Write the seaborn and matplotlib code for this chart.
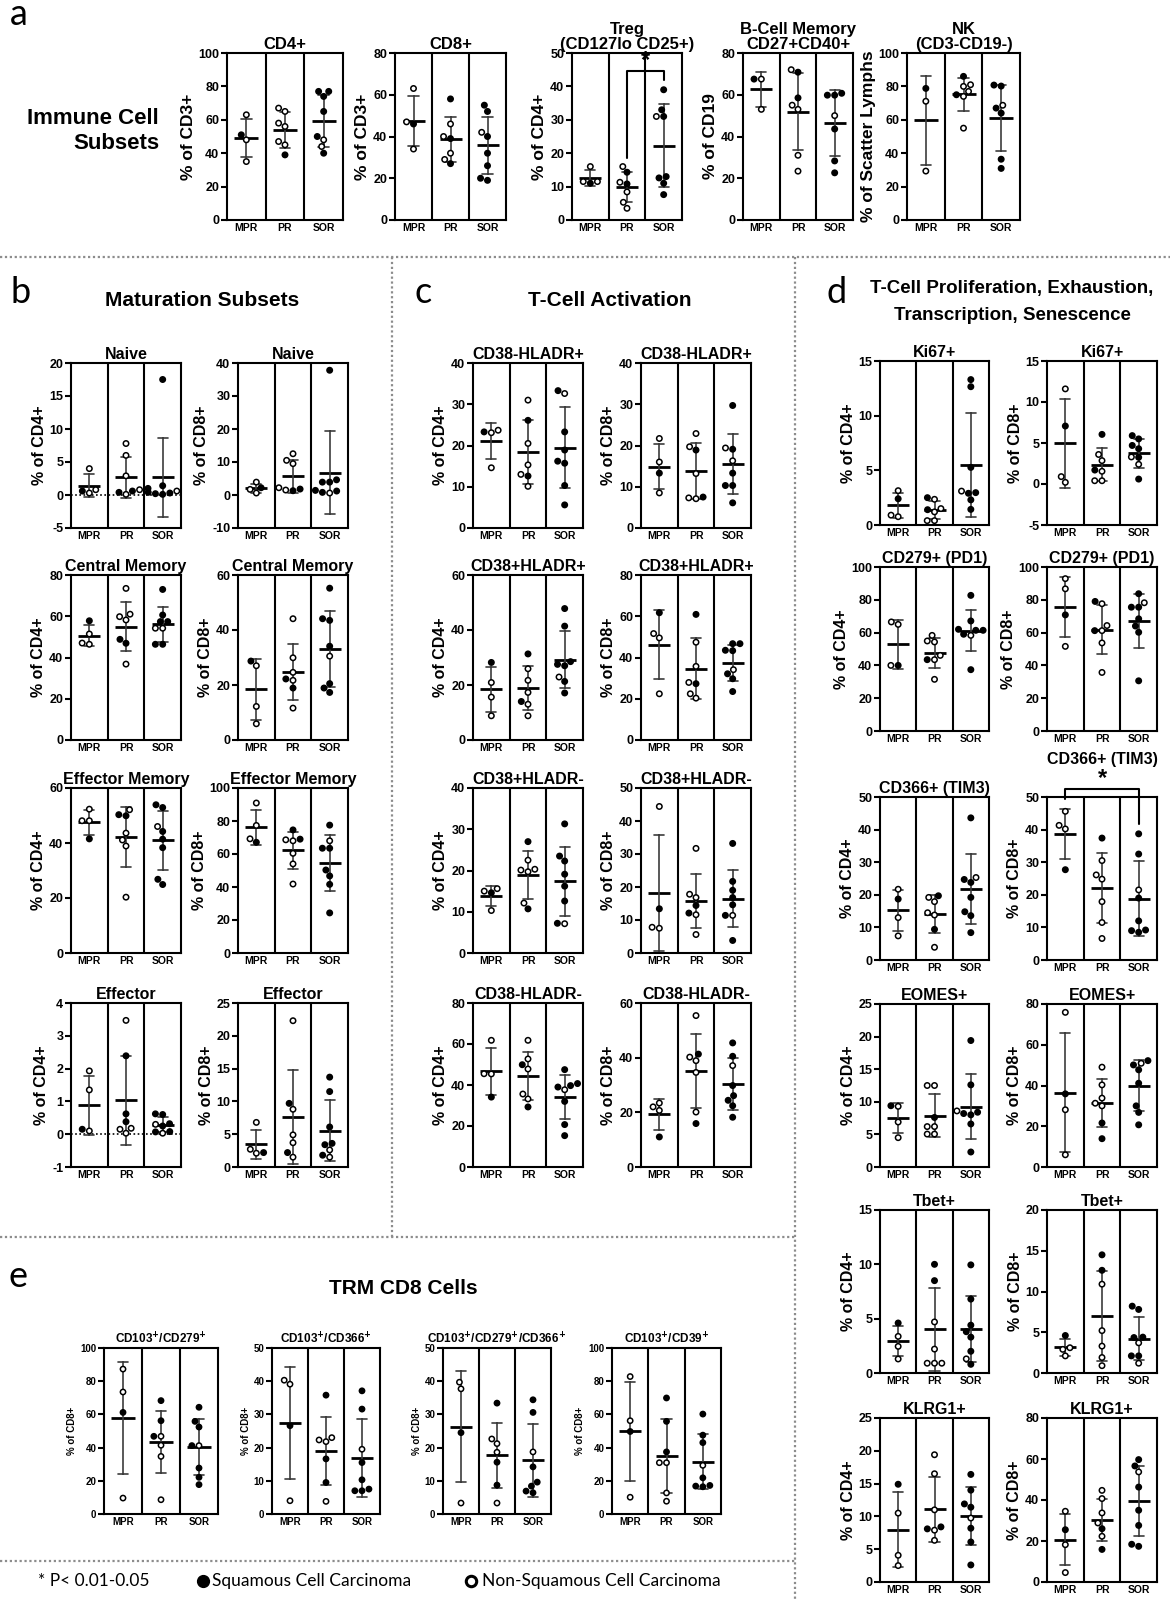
import numpy as np
import pandas as pd
import matplotlib
matplotlib.use("Agg")
import matplotlib.pyplot as plt
from matplotlib.lines import Line2D
import seaborn as sns

sns.set_theme(style="white")
plt.rcParams['font.family'] = ['Liberation Sans', 'DejaVu Sans']
plt.rcParams['font.weight'] = 'bold'
plt.rcParams['axes.titleweight'] = 'bold'
plt.rcParams['axes.labelweight'] = 'bold'
plt.rcParams['mathtext.default'] = 'bf'
plt.rcParams['text.color'] = 'black'
plt.rcParams['axes.labelcolor'] = 'black'

GROUPS = ['MPR', 'PR', 'SOR']

# values per group (MPR, PR, SOR); flags: f = squamous (filled), o = non-squamous (open)
# --- a: immune cell subsets
a_cd4 = [[63, 51, 48, 35], [67, 65, 58, 56, 47, 45, 39], [77, 77, 74, 65, 50, 48, 44, 40]]
a_cd4_sq = ["ofoo", "oooooof", "fffffoof"]
a_cd8 = [[63, 47, 46, 34], [58, 46, 40, 39, 32, 29, 27], [55, 52, 42, 40, 32, 26, 20, 19]]
a_cd8_sq = ["oofo", "foofoof", "ffofffff"]
a_treg = [[16, 11.5, 11.5, 11], [16, 14.3, 11.3, 10.8, 8.4, 5.3, 3.5], [39, 33, 31, 31, 13, 12.6, 11, 7.6]]
a_treg_sq = ["ooof", "ofofooo", "fffoffff"]
a_bmem = [[67.5, 67.5, 53], [72, 70.8, 58.5, 55, 53, 31, 23.4], [59.8, 60.7, 59.8, 50, 43.6, 28.3, 22.6]]
a_bmem_sq = ["ofo", "offoooo", "fffofff"]
a_nk = [[78.8, 71.1, 29.3], [86, 81, 80, 77, 75, 74, 55], [80.8, 80.2, 68.7, 67, 64, 36.4, 30.9]]
a_nk_sq = ["foo", "fooofoo", "ffoffff"]

# --- b: maturation subsets
b_naive4 = [[4, 0.8, 0.6, 0.3], [7.8, 6, 2.9, 0.8, 0.1, 0.6, 0.4], [17.5, 1.4, 1.0, 0.6, 0.4, 0.3, 0.2, 0.1]]
b_naive4_sq = ["oofo", "oooooff", "fffoffff"]
b_naive8 = [[3.9, 2.2, 1.7, 0.6], [12.5, 10.5, 9.5, 2.2, 1.5, 1.3, 1.8], [37.8, 4.6, 3.9, 3.9, 1.4, 1.2, 0.8, 0.6]]
b_naive8_sq = ["ofoo", "oooooff", "fffffffo"]
b_cm4 = [[57.8, 51.4, 47, 46.4], [73.5, 61, 59.8, 58.2, 48.8, 46.9, 36.8], [73, 60.6, 57.4, 57.4, 54.2, 54.2, 46.4, 46.4]]
b_cm4_sq = ["fooo", "ooooffo", "ffffooff"]
b_cm8 = [[28.7, 27, 12.2, 5.9], [44.1, 29.9, 24.6, 22.2, 21.7, 18.9, 11.6], [55.2, 44.1, 43.5, 34.1, 30.5, 20.5, 18.9, 17.3]]
b_cm8_sq = ["fooo", "ooofofo", "ffffofff"]
b_em4 = [[52.3, 48.1, 48.1, 41.5], [52.1, 50.3, 49.9, 43.6, 41.1, 38.9, 20.3], [53.9, 52.9, 46, 44.2, 41.4, 38.3, 26.8, 24.9]]
b_em4_sq = ["ooof", "offoooo", "ffofffff"]
b_em8 = [[90.9, 77.3, 69.2, 67.1], [74.6, 69, 68.6, 68, 60.4, 54, 41.8], [77.5, 68, 63.5, 63.5, 50.3, 46.7, 41.6, 24.3]]
b_em8_sq = ["ooof", "ffooooo", "foffffff"]
b_eff4 = [[1.93, 1.35, 0.15, 0.1], [3.47, 2.39, 0.62, 0.38, 0.18, 0.15, 0.03], [0.62, 0.6, 0.32, 0.3, 0.25, 0.08, 0.07, 0.03]]
b_eff4_sq = ["oofo", "offfooo", "fffofffo"]
b_eff8 = [[6.8, 2.7, 2.2, 2.1], [22.3, 9.7, 8.8, 4.9, 3.7, 2.2, 1.5], [13.7, 11.5, 6.1, 3.6, 3.4, 2.6, 1.8, 1.5]]
b_eff8_sq = ["oofo", "ofooofo", "fffffofo"]

# --- c: T-cell activation
c_dr4 = [[23.7, 23.3, 23.1, 14.6], [31, 26.1, 20.5, 15.3, 13, 12.6, 10.1], [33.3, 32.6, 23.3, 18.9, 16.2, 15.7, 10.3, 5.6]]
c_dr4_sq = ["ofoo", "ofooofo", "foffffff"]
c_dr8 = [[21.7, 16, 13.3, 8.5], [22.9, 19.7, 18.9, 13.2, 7.5, 7.3, 7.1], [29.7, 19.4, 19.1, 16.3, 13.3, 10.3, 10.3, 6.1]]
c_dr8_sq = ["oofo", "oofofoo", "fofoffff"]
c_pp4 = [[28.2, 20.9, 15.6, 8.8], [31.3, 25.9, 21.7, 17.3, 14, 13, 8.8], [47.8, 41.4, 28.5, 27.5, 27, 22.9, 21.3, 17.1]]
c_pp4_sq = ["fooo", "fooofoo", "fffffoff"]
c_pp8 = [[61.7, 51.6, 49.5, 22.4], [60.9, 47.4, 35.7, 27.9, 27.3, 22.4, 20.3], [46.7, 46.7, 43.5, 43.3, 34.1, 32.1, 29.7, 23.5]]
c_pp8_sq = ["fooo", "fooofoo", "ffffofff"]
c_pm4 = [[15.6, 15, 14.6, 10.3], [27, 22.5, 20.3, 20.1, 19.7, 12.1, 10.7], [31.3, 23.5, 22.3, 19.1, 16.2, 12.6, 7.2, 7.1]]
c_pm4_sq = ["oofo", "fooooof", "fffffffo"]
c_pm8 = [[44.4, 13.4, 7.8, 7.5], [31.7, 17.8, 16.8, 14.4, 12.1, 11.6, 5.6], [33.2, 21.7, 19, 16.8, 14.6, 11.4, 11.4, 3.8]]
c_pm8_sq = ["ofoo", "oooffoo", "fffffoff"]
c_mm4 = [[61.8, 45.5, 45.4, 34.1], [61.8, 52.7, 49.9, 47.8, 35.6, 33.2, 29.3], [47.5, 40.7, 39.7, 39, 37.7, 32, 20.7, 15.3]]
c_mm4_sq = ["ooof", "oofooof", "ffffofff"]
c_mm8 = [[23.4, 22, 20.7, 11], [55.4, 41.3, 40.2, 38.9, 34.6, 20.1, 15.9], [45.4, 40.5, 37.1, 29.8, 26.1, 24.4, 22.4, 18.2]]
c_mm8_sq = ["ooof", "ofoooof", "ffofffff"]

# --- d: proliferation, exhaustion, transcription, senescence
d_ki4 = [[3.14, 2.4, 0.9, 0.76], [2.5, 2.35, 1.5, 1.4, 1.2, 0.4, 0.4], [13.3, 12.65, 5.27, 3.1, 2.96, 2.9, 2.3, 1.43]]
d_ki4_sq = ["ofoo", "foofooo", "fffoffff"]
d_ki8 = [[11.6, 7.07, 0.9, 0.2], [6.05, 3.6, 2.85, 1.7, 1.55, 0.4, 0.4], [5.9, 5.5, 4.7, 4.3, 3.3, 3.25, 2.4, 0.6]]
d_ki8_sq = ["ofoo", "foofooo", "ffffofof"]
d_pd4 = [[66.5, 65, 40, 40], [58.3, 54.9, 54.3, 46.1, 43.5, 43.5, 31.5], [82.7, 67.1, 62, 61.4, 61.4, 59, 58.3, 37.4]]
d_pd4_sq = ["ooof", "ooooofo", "ffffffof"]
d_pd8 = [[92.9, 86.7, 70.8, 51.6], [79, 77.6, 64.3, 61.2, 61.2, 53.7, 35.7], [83.7, 78.2, 75.5, 75.5, 68.4, 64, 60.2, 30.6]]
d_pd8_sq = ["oofo", "fooofoo", "foffffff"]
d_tim4 = [[21.7, 18.7, 13, 7.4], [19.7, 19.2, 17.9, 14.5, 13.8, 9.4, 3.9], [43.6, 25.3, 24.7, 23.8, 19.2, 14.8, 13.6, 8.4]]
d_tim4_sq = ["ofoo", "foooofo", "foffffff"]
d_tim8 = [[45.6, 41.3, 40.2, 27.7], [37.4, 30.5, 26.1, 24.8, 17.9, 11.5, 6.6], [38.7, 32.5, 21.5, 19, 12, 9.2, 9, 8.5]]
d_tim8_sq = ["ooof", "foooooo", "ffofffff"]
d_eo4 = [[9.4, 9.3, 6.9, 4.5], [12.5, 12.5, 7.6, 6.2, 6.2, 5.05, 5.05], [19.4, 12.6, 8.6, 8.4, 8.2, 8, 6.6, 2.3]]
d_eo4_sq = ["fooo", "oofoooo", "ffofffff"]
d_eo8 = [[75.9, 35.9, 28.1, 6], [49, 40.3, 33.8, 31.3, 30, 21.6, 13.9], [52.2, 50.9, 50.1, 47.7, 41.1, 30, 26.8, 20.7]]
d_eo8_sq = ["ofoo", "oooooff", "foffffff"]
d_tb4 = [[4.6, 3.37, 2.45, 1.29], [10, 8.5, 4.7, 2.2, 0.9, 0.9, 0.9], [9.95, 6.8, 4.4, 3.8, 3.3, 2, 1.3, 0.8]]
d_tb4_sq = ["fooo", "ffooooo", "ffffffof"]
d_tb8 = [[4.6, 3.1, 2.9, 2.1], [14.5, 12.6, 10.9, 5.2, 3.3, 1.9, 0.9], [8.2, 7.8, 4.4, 4.35, 3.7, 2.1, 2.1, 1.2]]
d_tb8_sq = ["fooo", "ffooooo", "ffffoffo"]
d_kl4 = [[14.9, 10.5, 4.07, 2.5], [19.4, 16.5, 11, 8.4, 8.1, 7.9, 6.35], [16.4, 14, 11.9, 11.4, 9.75, 8.2, 6.1, 2.6]]
d_kl4_sq = ["fooo", "oooffoo", "ffffofff"]
d_kl8 = [[34.5, 25.5, 18.2, 4.6], [44.7, 40.7, 33.7, 28.8, 26, 22.3, 15.9], [59.7, 56.6, 53.7, 46.3, 35, 27.6, 18.4, 17.4]]
d_kl8_sq = ["ofoo", "oooofof", "ffofffff"]

# --- e: TRM CD8 cells
e_279 = [[87.3, 73.5, 61.2, 9.6], [68.3, 56.2, 46.8, 46.8, 41.4, 34.7, 8.6], [64.3, 55.8, 52.4, 41.2, 41.2, 27.7, 22.1, 17.7]]
e_279_sq = ["oofo", "fffoooo", "fffoffff"]
e_366 = [[40.3, 39.1, 26.6, 4], [35.8, 23, 22.3, 21.8, 16.6, 9.5, 3.8], [37.1, 31.6, 19.5, 15.5, 10.3, 7.5, 7, 7]]
e_366_sq = ["oofo", "foooffo", "ffofffff"]
e_both = [[39.7, 37.7, 24.5, 3.3], [33.4, 22.6, 21.2, 18.6, 15.6, 8.7, 3.3], [34.4, 30.6, 18.7, 14.2, 9.6, 8.4, 6.9, 6.4]]
e_both_sq = ["oofo", "foooffo", "ffofffff"]
e_39 = [[82.8, 56.2, 49.7, 10.1], [69.9, 55.8, 37.4, 30.9, 30.9, 12.7, 7.7], [60.2, 47.5, 43, 29.3, 21.8, 17.2, 16.8, 16.4]]
e_39_sq = ["oofo", "fffoooo", "fffoffff"]

W, H = 1170, 1599
fig = plt.figure(figsize=(W / 100, H / 100), dpi=100)


def rect(x0, x1, y0, y1):
    return [x0 / W, 1 - y1 / H, (x1 - x0) / W, (y1 - y0) / H]


def ftext(x, y, s, **kw):
    fig.text(x / W, 1 - y / H, s, **kw)


def fline(xs, ys):
    fig.add_artist(Line2D([x / W for x in xs], [1 - y / H for y in ys], color='#8c8c8c',
                          lw=1.6, ls=(0, (1, 1.2)), transform=fig.transFigure))


def make_frame(vals, sq):
    rows = []
    for g, vs, fl in zip(GROUPS, vals, sq):
        for v, f in zip(vs, fl):
            rows.append({'group': g, 'value': v, 'type': 'SCC' if f == 'f' else 'NSCC'})
    return pd.DataFrame(rows)


STD = dict(title=11.5, ylabel=11.5, ytick=9, xtick=7.5, ms=3.9)
STA = dict(title=12, ylabel=12.5, ytick=9, xtick=7.5, ms=3.9)
STE = dict(title=8.5, ylabel=7, ytick=7, xtick=7, ms=3.8)


def panel(box, vals, sq, ylim, step, title, ylabel, st, zero=False, pad=3):
    ax = fig.add_axes(rect(*box))
    df = make_frame(vals, sq)
    cat_pt = (box[1] - box[0]) / 3 * 0.72
    sns.swarmplot(data=df, x='group', y='value', hue='type', order=GROUPS,
                  hue_order=['SCC', 'NSCC'], palette={'SCC': 'black', 'NSCC': 'white'},
                  size=st['ms'], edgecolor='black', linewidth=1.1, legend=False,
                  zorder=3, ax=ax)
    sns.pointplot(data=df, x='group', y='value', order=GROUPS, errorbar='sd',
                  capsize=0.28, color='black', linestyle='none', marker='_',
                  markersize=0.62 * cat_pt, markeredgewidth=2.0,
                  err_kws={'color': '#3c3c3c', 'linewidth': 1.2, 'linestyle': '-'}, ax=ax)
    ax.set_xlim(-0.5, 2.5)
    ax.set_ylim(*ylim)
    ax.set_yticks(np.arange(ylim[0], ylim[1] + step / 2, step))
    ax.set_yticklabels(['%g' % t for t in ax.get_yticks()])
    for xv in (0.5, 1.5):
        ax.axvline(xv, color='black', lw=1.5, zorder=2)
    if zero:
        ax.axhline(0, color='black', lw=1.2, ls=(0, (1, 1.5)), zorder=1)
    for s in ax.spines.values():
        s.set_linewidth(1.5)
        s.set_color('black')
    ax.tick_params(axis='y', left=True, length=4, width=1.5, direction='out',
                   labelsize=st['ytick'], pad=1.5, colors='black')
    ax.tick_params(axis='x', bottom=False, length=0, labelsize=st['xtick'], pad=2,
                   colors='black')
    ax.set_xlabel('')
    ax.set_ylabel(ylabel, fontsize=st['ylabel'], labelpad=2, color='black')
    ax.set_title(title, fontsize=st['title'], pad=pad, linespacing=1.0, color='black')
    return ax


# ---- panel a
a_y = (53, 220)
panel((227, 343) + a_y, a_cd4, a_cd4_sq, (0, 100), 20, 'CD4+', '% of CD3+', STA)
panel((395, 506) + a_y, a_cd8, a_cd8_sq, (0, 80), 20, 'CD8+', '% of CD3+', STA)
ax = panel((572, 682) + a_y, a_treg, a_treg_sq, (0, 50), 10, 'Treg\n(CD127lo CD25+)',
           '% of CD4+', STA)
ax.plot([1, 1, 2, 2], [18.6, 44.6, 44.6, 42], color='black', lw=1.5, zorder=4)
ax.text(1.5, 44.2, '*', ha='center', va='bottom', fontsize=17)
panel((743, 853) + a_y, a_bmem, a_bmem_sq, (0, 80), 20, 'B-Cell Memory\nCD27+CD40+',
      '% of CD19', STA)
panel((907, 1020) + a_y, a_nk, a_nk_sq, (0, 100), 20, 'NK\n(CD3-CD19-)',
      '% of Scatter Lymphs', STA)

# ---- panel b
rows_bc = [(363, 528), (575, 740), (788, 953), (1003, 1167)]
bx = [(71, 181), (238, 348)]
panel(bx[0] + rows_bc[0], b_naive4, b_naive4_sq, (-5, 20), 5, 'Naive', '% of CD4+', STD, zero=True)
panel(bx[1] + rows_bc[0], b_naive8, b_naive8_sq, (-10, 40), 10, 'Naive', '% of CD8+', STD)
panel(bx[0] + rows_bc[1], b_cm4, b_cm4_sq, (0, 80), 20, 'Central Memory', '% of CD4+', STD)
panel(bx[1] + rows_bc[1], b_cm8, b_cm8_sq, (0, 60), 20, 'Central Memory', '% of CD8+', STD)
panel(bx[0] + rows_bc[2], b_em4, b_em4_sq, (0, 60), 20, 'Effector Memory', '% of CD4+', STD)
panel(bx[1] + rows_bc[2], b_em8, b_em8_sq, (0, 100), 20, 'Effector Memory', '% of CD8+', STD)
panel(bx[0] + rows_bc[3], b_eff4, b_eff4_sq, (-1, 4), 1, 'Effector', '% of CD4+', STD, zero=True)
panel(bx[1] + rows_bc[3], b_eff8, b_eff8_sq, (0, 25), 5, 'Effector', '% of CD8+', STD)

# ---- panel c
cx = [(473, 583), (641, 751)]
panel(cx[0] + rows_bc[0], c_dr4, c_dr4_sq, (0, 40), 10, 'CD38-HLADR+', '% of CD4+', STD)
panel(cx[1] + rows_bc[0], c_dr8, c_dr8_sq, (0, 40), 10, 'CD38-HLADR+', '% of CD8+', STD)
panel(cx[0] + rows_bc[1], c_pp4, c_pp4_sq, (0, 60), 20, 'CD38+HLADR+', '% of CD4+', STD)
panel(cx[1] + rows_bc[1], c_pp8, c_pp8_sq, (0, 80), 20, 'CD38+HLADR+', '% of CD8+', STD)
panel(cx[0] + rows_bc[2], c_pm4, c_pm4_sq, (0, 40), 10, 'CD38+HLADR-', '% of CD4+', STD)
panel(cx[1] + rows_bc[2], c_pm8, c_pm8_sq, (0, 50), 10, 'CD38+HLADR-', '% of CD8+', STD)
panel(cx[0] + rows_bc[3], c_mm4, c_mm4_sq, (0, 80), 20, 'CD38-HLADR-', '% of CD4+', STD)
panel(cx[1] + rows_bc[3], c_mm8, c_mm8_sq, (0, 60), 20, 'CD38-HLADR-', '% of CD8+', STD)

# ---- panel d
dx = [(880, 989), (1047, 1157)]
rows_d = [(361, 525), (567, 731), (797, 960), (1004, 1167), (1210, 1373), (1418, 1582)]
panel(dx[0] + rows_d[0], d_ki4, d_ki4_sq, (0, 15), 5, 'Ki67+', '% of CD4+', STD)
panel(dx[1] + rows_d[0], d_ki8, d_ki8_sq, (-5, 15), 5, 'Ki67+', '% of CD8+', STD)
panel(dx[0] + rows_d[1], d_pd4, d_pd4_sq, (0, 100), 20, 'CD279+ (PD1)', '% of CD4+', STD)
panel(dx[1] + rows_d[1], d_pd8, d_pd8_sq, (0, 100), 20, 'CD279+ (PD1)', '% of CD8+', STD)
panel(dx[0] + rows_d[2], d_tim4, d_tim4_sq, (0, 50), 10, 'CD366+ (TIM3)', '% of CD4+', STD)
ax = panel(dx[1] + rows_d[2], d_tim8, d_tim8_sq, (0, 50), 10, 'CD366+ (TIM3)', '% of CD8+',
           STD, pad=24)
ax.plot([0, 0, 2, 2], [49.4, 52.4, 52.4, 41.8], color='black', lw=1.5, zorder=4, clip_on=False)
ax.text(1.0, 52.0, '*', ha='center', va='bottom', fontsize=17)
panel(dx[0] + rows_d[3], d_eo4, d_eo4_sq, (0, 25), 5, 'EOMES+', '% of CD4+', STD)
panel(dx[1] + rows_d[3], d_eo8, d_eo8_sq, (0, 80), 20, 'EOMES+', '% of CD8+', STD)
panel(dx[0] + rows_d[4], d_tb4, d_tb4_sq, (0, 15), 5, 'Tbet+', '% of CD4+', STD)
panel(dx[1] + rows_d[4], d_tb8, d_tb8_sq, (0, 20), 5, 'Tbet+', '% of CD8+', STD)
panel(dx[0] + rows_d[5], d_kl4, d_kl4_sq, (0, 25), 5, 'KLRG1+', '% of CD4+', STD)
panel(dx[1] + rows_d[5], d_kl8, d_kl8_sq, (0, 80), 20, 'KLRG1+', '% of CD8+', STD)

# ---- panel e
e_y = (1348, 1514)
panel((104, 218) + e_y, e_279, e_279_sq, (0, 100), 20, r'CD103$^{+}$/CD279$^{+}$', '% of CD8+', STE)
panel((272, 380) + e_y, e_366, e_366_sq, (0, 50), 10, r'CD103$^{+}$/CD366$^{+}$', '% of CD8+', STE)
panel((443, 551) + e_y, e_both, e_both_sq, (0, 50), 10,
      r'CD103$^{+}$/CD279$^{+}$/CD366$^{+}$', '% of CD8+', STE)
panel((612, 721) + e_y, e_39, e_39_sq, (0, 100), 20, r'CD103$^{+}$/CD39$^{+}$', '% of CD8+', STE)

# ---- section labels and headers
letter = dict(fontsize=26, fontweight='normal', family=['Lato', 'DejaVu Sans'], va='baseline')
ftext(10, 25, 'a', **letter)
ftext(10, 303, 'b', **letter)
ftext(415, 303, 'c', **letter)
ftext(827, 303, 'd', **letter)
ftext(8, 1287, 'e', **letter)

head = dict(fontsize=15, fontweight='bold', ha='center', va='center')
ftext(159, 131, 'Immune Cell\nSubsets', fontsize=16, fontweight='bold',
      ha='right', va='center', linespacing=1.25)
ftext(202, 300, 'Maturation Subsets', **head)
ftext(610, 301, 'T-Cell Activation', **head)
ftext(1012, 288, 'T-Cell Proliferation, Exhaustion,', fontsize=13.5, fontweight='bold',
      ha='center', va='center')
ftext(1012, 315, 'Transcription, Senescence', fontsize=13.5, fontweight='bold',
      ha='center', va='center')
ftext(403, 1288, 'TRM CD8 Cells', **head)

# ---- dotted separators
fline([0, W], [257, 257])
fline([392, 392], [257, 1237])
fline([795, 795], [257, H])
fline([0, 795], [1237, 1237])
fline([0, 795], [1561, 1561])

# ---- legend
leg = dict(fontsize=12.5, fontweight='normal', family=['Lato', 'DejaVu Sans'], va='center')
ftext(38, 1581, '* P< 0.01-0.05', **leg)
fig.add_artist(Line2D([203 / W], [1 - 1581 / H], marker='o', ms=8.5, mfc='black', mec='black',
                      transform=fig.transFigure))
ftext(212, 1581, 'Squamous Cell Carcinoma', **leg)
fig.add_artist(Line2D([471 / W], [1 - 1581 / H], marker='o', ms=7.5, mfc='white', mec='black',
                      mew=2.2, transform=fig.transFigure))
ftext(482, 1581, 'Non-Squamous Cell Carcinoma', **leg)

fig.savefig('out.png', dpi=100)
